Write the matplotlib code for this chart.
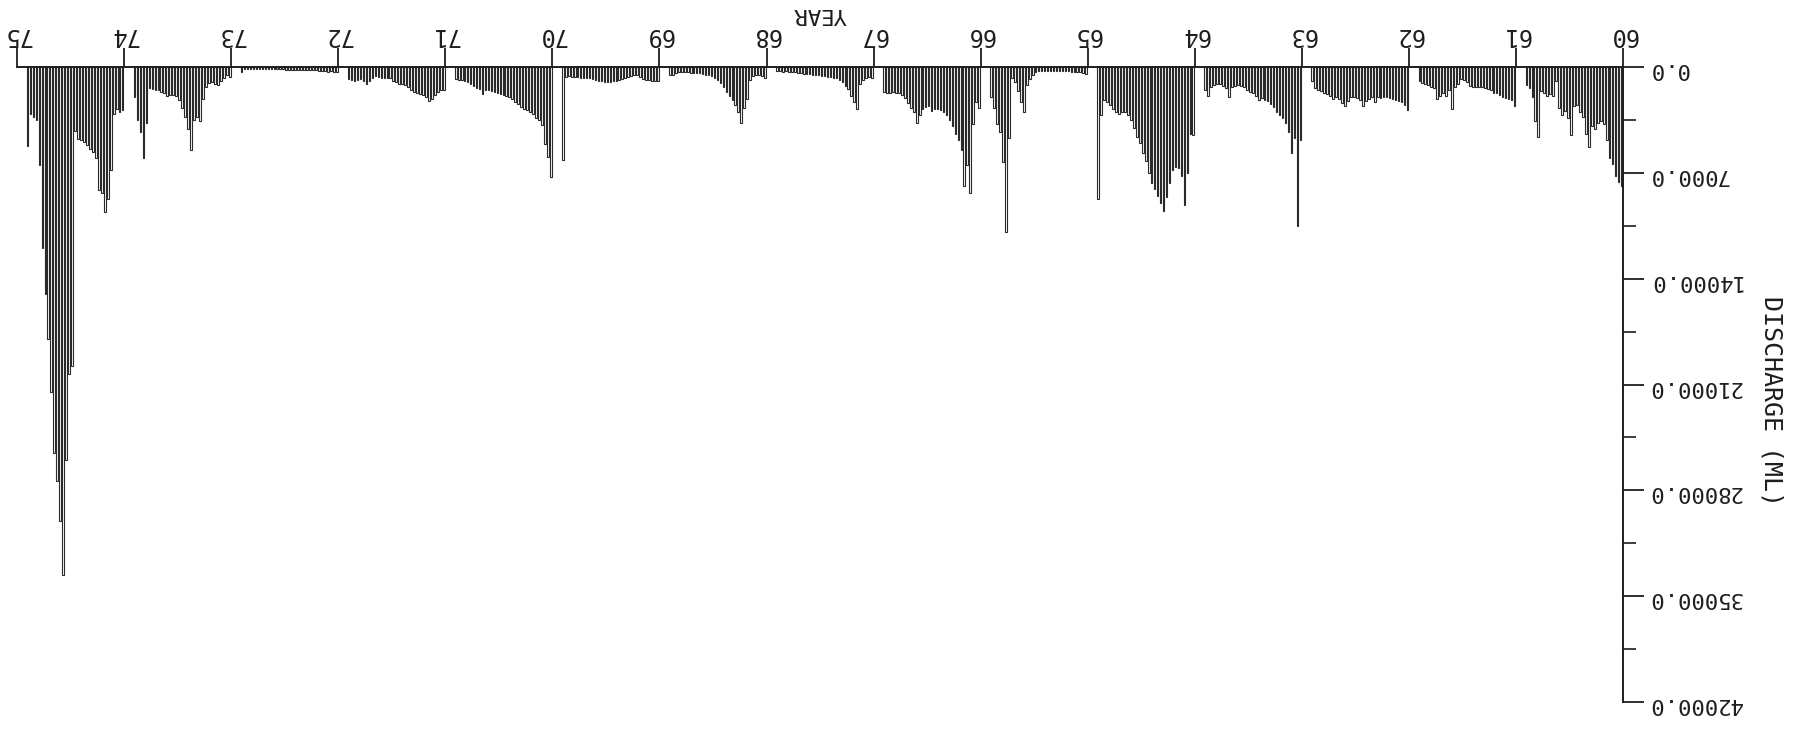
import matplotlib
matplotlib.use("Agg")
import matplotlib.pyplot as plt
from matplotlib.ticker import MultipleLocator, FuncFormatter

# Ten-day discharge totals (ML), 33 periods per year, in chronological order
q1960 = [7900, 7600, 7200, 6400, 6000, 4800, 3800, 3600, 3700, 4100, 3900,
         5300, 4400, 3300, 3000, 2500, 2600, 4500, 3400, 2900, 3200, 2700,
         900, 1900, 1800, 1900, 1700, 1600, 4600, 3600, 2000, 1400, 1200]
q1961 = [2550, 2150, 2100, 2050, 1950, 1850, 1750, 1700, 1550, 1450, 1400,
         1350, 1350, 1300, 1300, 1250, 1000, 850, 800, 1100, 1300, 2750,
         1500, 1900, 1750, 1900, 2100, 1400, 1300, 1200, 1100, 1050, 950]
q1962 = [2850, 2500, 2300, 2250, 2150, 2100, 2050, 2000, 1950, 2050, 1950,
         2300, 2000, 2100, 2250, 2600, 2150, 2050, 2000, 1950, 2250, 2550,
         2400, 2100, 2000, 2100, 1900, 1800, 1700, 1600, 1500, 1400, 900]
q1963 = [4800, 10500, 4700, 5700, 4300, 3700, 3400, 3150, 2950, 2650, 2450,
         2250, 2150, 2050, 2200, 1900, 1750, 1650, 1500, 1350, 1250, 1200,
         1250, 1300, 1950, 1400, 1250, 1150, 1100, 1200, 1300, 1900, 1500]
q1964 = [4500, 4400, 7000, 9100, 7200, 6700, 6600, 6800, 7700, 8600, 9500,
         9000, 8500, 8100, 7700, 7000, 6200, 5700, 5000, 4600, 4000, 3500,
         3200, 3000, 3000, 3100, 3000, 2800, 2500, 2300, 2200, 3200, 8700]
q1965 = [450, 380, 350, 330, 320, 300, 290, 280, 270, 260, 260,
         250, 250, 240, 240, 260, 280, 350, 550, 800, 1200, 2950,
         2300, 1600, 1000, 700, 4700, 10900, 6300, 4300, 3800, 2700, 2000]
q1966 = [2700, 2300, 3800, 8300, 6500, 7900, 5500, 4800, 4400, 3900, 3500,
         3200, 2950, 2850, 2750, 2800, 2900, 2550, 2650, 2800, 3200, 3700,
         3000, 2700, 2400, 2050, 1850, 1750, 1750, 1650, 1750, 1700, 1650]
q1967 = [700, 650, 750, 850, 1100, 2750, 2300, 1900, 1450, 1250, 1000,
         850, 750, 700, 680, 650, 620, 600, 560, 520, 500, 480,
         460, 450, 400, 380, 340, 300, 320, 280, 300, 280, 250]
q1968 = [730, 620, 560, 500, 620, 850, 2100, 2700, 3700, 3000, 2500,
         2200, 1900, 1650, 1300, 1050, 850, 720, 620, 560, 500, 450,
         420, 400, 400, 400, 360, 330, 330, 300, 400, 500, 550]
q1969 = [950, 950, 900, 850, 850, 800, 650, 550, 560, 620, 680,
         750, 800, 850, 900, 950, 970, 1000, 970, 950, 900, 850,
         800, 750, 750, 750, 700, 680, 650, 650, 620, 650, 6150]
q1970 = [7260, 5940, 5060, 3850, 3520, 3340, 3080, 2970, 2860, 2750, 2640,
         2460, 2310, 2090, 1980, 1910, 1830, 1760, 1690, 1650, 1580, 1540,
         1500, 1760, 1470, 1360, 1280, 1100, 990, 920, 880, 840, 790]
q1971 = [1550, 1500, 1650, 1850, 2100, 2250, 2000, 1850, 1800, 1750, 1650,
         1500, 1350, 1200, 1150, 1100, 1000, 900, 750, 700, 750, 700,
         650, 600, 700, 900, 1150, 900, 800, 850, 900, 850, 800]
q1972 = [350, 300, 280, 300, 250, 250, 230, 220, 220, 210, 200,
         200, 190, 190, 180, 180, 170, 170, 160, 160, 160, 150,
         150, 150, 150, 140, 140, 140, 150, 150, 150, 160, 350]
q1973 = [650, 550, 750, 950, 1200, 1100, 1000, 1050, 1300, 2100, 3600,
         3300, 3500, 5500, 4100, 3300, 2700, 2200, 1900, 1850, 1850, 1900,
         1750, 1650, 1550, 1500, 1450, 1400, 3700, 6000, 4300, 3500, 2000]
q1974 = [2860, 2970, 2750, 3080, 6820, 8700, 9570, 8360, 8140, 6050, 5610,
         5390, 5170, 4950, 4840, 4730, 4200, 19800, 20300, 26000, 33600, 30000,
         27400, 25500, 21500, 18000, 15000, 12000, 6500, 3500, 3300, 3100, 5200]

years = list(range(60, 76))
year_series = [q1960, q1961, q1962, q1963, q1964, q1965, q1966, q1967,
               q1968, q1969, q1970, q1971, q1972, q1973, q1974]
y_ticks = [0, 7000, 14000, 21000, 28000, 35000, 42000]

PERIODS = 36  # ten-day periods per year slot on the time axis
FONT = "DejaVu Sans Mono"
INK = "#1e1e1e"

fig = plt.figure(figsize=(17.97, 7.31), dpi=100)
ax = fig.add_axes([0.0095, 0.0397, 0.8937, 0.8686])

xs, hs = [], []
for yr, vals in zip(years, year_series):
    for i, v in enumerate(vals):
        xs.append(yr + (i + 0.5) / PERIODS)
        hs.append(v)

ax.bar(xs, hs, width=0.55 / PERIODS, fill=False, edgecolor="#2a2a2a",
       linewidth=0.8, align="center")

# The sheet is plotted upside down: time runs right-to-left, discharge downward
ax.set_xlim(75, 60)
ax.set_ylim(42000, 0)

for side in ("left", "bottom"):
    ax.spines[side].set_visible(False)
for side in ("top", "right"):
    ax.spines[side].set_color(INK)
    ax.spines[side].set_linewidth(1.4)

ax.xaxis.tick_top()
ax.yaxis.tick_right()
ax.set_xticks(years)
ax.set_xticklabels([f"{y:d}" for y in years])
ax.set_yticks(y_ticks)
ax.yaxis.set_minor_locator(MultipleLocator(3500))
ax.yaxis.set_major_formatter(FuncFormatter(lambda v, p: f"{v:.1f}"))

ax.tick_params(axis="x", which="major", direction="out", length=14, width=1.3,
               color=INK, pad=0.5, labelrotation=180, labelsize=17,
               labelcolor=INK)
ax.tick_params(axis="y", which="major", direction="out", length=15, width=1.3,
               color=INK, pad=3, labelrotation=180, labelsize=16,
               labelcolor=INK)
ax.tick_params(axis="y", which="minor", direction="out", length=9, width=1.2,
               color=INK)
for lab in ax.get_xticklabels() + ax.get_yticklabels():
    lab.set_fontfamily(FONT)

ax.set_xlabel("YEAR", fontfamily=FONT, fontsize=16, rotation=180,
              color=INK, va="center", ha="center")
ax.xaxis.set_label_position("top")
ax.xaxis.set_label_coords(0.5, 1.074)

ax.set_ylabel("DISCHARGE (ML)", fontfamily=FONT, fontsize=18, rotation=270,
              color=INK, va="center", ha="center")
ax.yaxis.set_label_position("right")
ax.yaxis.set_label_coords(1.1, 0.474)

fig.savefig("out.png", dpi=100, facecolor="white")
